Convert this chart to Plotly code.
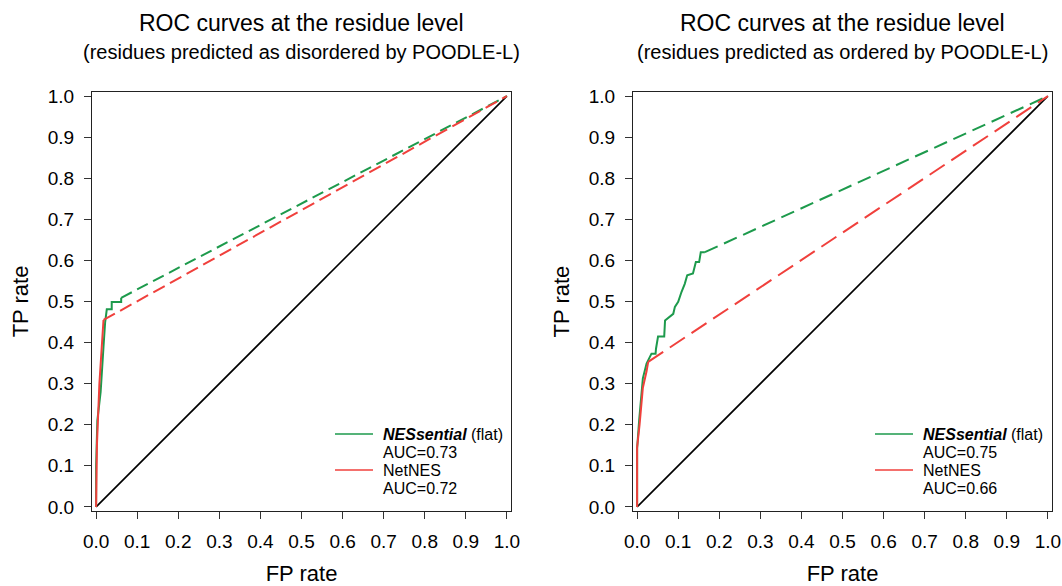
import plotly.graph_objects as go

W, H = 1062, 586
FONT = "Liberation Sans, Arial, sans-serif"

# ---------------- data ----------------
# Left panel: residues predicted as disordered
L_nes_fpr = [0.0, 0.0, 0.003, 0.011, 0.018, 0.022, 0.026, 0.038, 0.038, 0.061, 0.061]
L_nes_tpr = [0.0, 0.10, 0.21, 0.28, 0.39, 0.45, 0.481, 0.481, 0.499, 0.499, 0.509]
L_nes_dash_fpr = [0.061, 1.0]
L_nes_dash_tpr = [0.509, 1.0]
L_net_fpr = [0.0, 0.002, 0.008, 0.018]
L_net_tpr = [0.0, 0.15, 0.30, 0.455]
L_net_dash_fpr = [0.018, 1.0]
L_net_dash_tpr = [0.455, 1.0]

# Right panel: residues predicted as ordered
R_nes_fpr = [0.0, 0.0, 0.005, 0.010, 0.014, 0.023, 0.031, 0.035, 0.045, 0.046, 0.051, 0.066,
             0.068, 0.078, 0.088, 0.092, 0.100, 0.108, 0.116, 0.122, 0.136, 0.143, 0.151,
             0.155, 0.165]
R_nes_tpr = [0.0, 0.142, 0.211, 0.268, 0.313, 0.349, 0.365, 0.373, 0.373, 0.385, 0.415, 0.415,
             0.454, 0.462, 0.470, 0.487, 0.499, 0.523, 0.543, 0.564, 0.568, 0.596, 0.596,
             0.620, 0.620]
R_nes_dash_fpr = [0.165, 1.0]
R_nes_dash_tpr = [0.620, 1.0]
R_net_fpr = [0.0, 0.0, 0.006, 0.014, 0.023, 0.027]
R_net_tpr = [0.0, 0.145, 0.20, 0.29, 0.33, 0.353]
R_net_dash_fpr = [0.027, 1.0]
R_net_dash_tpr = [0.353, 1.0]

diag = [0.0, 1.0]

tick_vals = [0.0, 0.1, 0.2, 0.3, 0.4, 0.5, 0.6, 0.7, 0.8, 0.9, 1.0]
tick_text = ["0.0", "0.1", "0.2", "0.3", "0.4", "0.5", "0.6", "0.7", "0.8", "0.9", "1.0"]

titles = ["ROC curves at the residue level", "ROC curves at the residue level"]
subtitles = ["(residues predicted as disordered by POODLE-L)",
             "(residues predicted as ordered by POODLE-L)"]
legend_names = ["<b><i>NESsential</i></b> (flat)", "NetNES"]
auc_left = ["AUC=0.73", "AUC=0.72"]
auc_right = ["AUC=0.75", "AUC=0.66"]

GREEN = "#1d9a4c"
RED = "#f0403c"

# ---------------- figure ----------------
fig = go.Figure()

def px_x(p):
    return p / W

def px_y(p):
    return 1 - p / H

panels = [
    dict(xa="x", ya="y",
         nes=(L_nes_fpr, L_nes_tpr), nesd=(L_nes_dash_fpr, L_nes_dash_tpr),
         net=(L_net_fpr, L_net_tpr), netd=(L_net_dash_fpr, L_net_dash_tpr),
         gdash="12px,6px", rdash="13px,6px"),
    dict(xa="x2", ya="y2",
         nes=(R_nes_fpr, R_nes_tpr), nesd=(R_nes_dash_fpr, R_nes_dash_tpr),
         net=(R_net_fpr, R_net_tpr), netd=(R_net_dash_fpr, R_net_dash_tpr),
         gdash="14px,7px", rdash="18px,8px"),
]

for p in panels:
    fig.add_trace(go.Scatter(x=diag, y=diag, mode="lines", xaxis=p["xa"], yaxis=p["ya"],
                             line=dict(color="black", width=1.6), showlegend=False,
                             hoverinfo="skip"))
    fig.add_trace(go.Scatter(x=p["nes"][0], y=p["nes"][1], mode="lines", xaxis=p["xa"], yaxis=p["ya"],
                             line=dict(color=GREEN, width=2), showlegend=False, name="NESsential"))
    fig.add_trace(go.Scatter(x=p["nesd"][0], y=p["nesd"][1], mode="lines", xaxis=p["xa"], yaxis=p["ya"],
                             line=dict(color=GREEN, width=2, dash=p["gdash"]), showlegend=False,
                             name="NESsential"))
    fig.add_trace(go.Scatter(x=p["net"][0], y=p["net"][1], mode="lines", xaxis=p["xa"], yaxis=p["ya"],
                             line=dict(color=RED, width=2), showlegend=False, name="NetNES"))
    fig.add_trace(go.Scatter(x=p["netd"][0], y=p["netd"][1], mode="lines", xaxis=p["xa"], yaxis=p["ya"],
                             line=dict(color=RED, width=2, dash=p["rdash"]), showlegend=False,
                             name="NetNES"))

axis_common = dict(
    range=[-0.01, 1.01], tickvals=tick_vals, ticktext=tick_text,
    showgrid=False, zeroline=False, showline=True, mirror=True,
    linecolor="#222222", linewidth=1.3,
    ticks="outside", ticklen=7, tickwidth=1.3, tickcolor="#333333",
    tickfont=dict(family=FONT, size=19, color="black"),
    fixedrange=True, automargin=False,
)

fig.update_layout(
    template="none",
    width=W, height=H,
    margin=dict(l=0, r=0, t=0, b=0, pad=0),
    paper_bgcolor="white", plot_bgcolor="white",
    showlegend=False,
    xaxis=dict(axis_common, domain=[px_x(92), px_x(511)], anchor="y",
               ticklabelstandoff=6,
               title=dict(text="FP rate", font=dict(family=FONT, size=22, color="black"), standoff=22)),
    yaxis=dict(axis_common, domain=[px_y(511), px_y(92)], anchor="x",
               ticklabelstandoff=6,
               title=dict(text="TP rate", font=dict(family=FONT, size=22, color="black"), standoff=12)),
    xaxis2=dict(axis_common, domain=[px_x(633), px_x(1052)], anchor="y2",
                ticklabelstandoff=6,
                title=dict(text="FP rate", font=dict(family=FONT, size=22, color="black"), standoff=22)),
    yaxis2=dict(axis_common, domain=[px_y(511), px_y(92)], anchor="x2",
                ticklabelstandoff=6,
                title=dict(text="TP rate", font=dict(family=FONT, size=22, color="black"), standoff=12)),
)

annotations = []
shapes = []
centers = [301.5, 842.5]
leg_line_x = [(335, 373), (875, 913)]
leg_text_x = [381, 921]
aucs = [auc_left, auc_right]
for i in range(2):
    annotations.append(dict(text=titles[i], x=px_x(centers[i]), y=px_y(23), xref="paper", yref="paper",
                            showarrow=False, xanchor="center", yanchor="middle",
                            font=dict(family=FONT, size=23, color="black")))
    annotations.append(dict(text=subtitles[i], x=px_x(centers[i]), y=px_y(52), xref="paper", yref="paper",
                            showarrow=False, xanchor="center", yanchor="middle",
                            font=dict(family=FONT, size=20, color="black")))
    lines = [legend_names[0], aucs[i][0], legend_names[1], aucs[i][1]]
    ys = [434, 452, 470, 488]
    for t, yy in zip(lines, ys):
        annotations.append(dict(text=t, x=px_x(leg_text_x[i]), y=px_y(yy), xref="paper", yref="paper",
                                showarrow=False, xanchor="left", yanchor="middle",
                                font=dict(family=FONT, size=16, color="black")))
    for col, yy in [(GREEN, 434), (RED, 470)]:
        shapes.append(dict(type="line", xref="paper", yref="paper",
                           x0=px_x(leg_line_x[i][0]), x1=px_x(leg_line_x[i][1]),
                           y0=px_y(yy), y1=px_y(yy), line=dict(color=col, width=1.6)))

fig.update_layout(annotations=annotations, shapes=shapes)

fig.write_html("out.html")
